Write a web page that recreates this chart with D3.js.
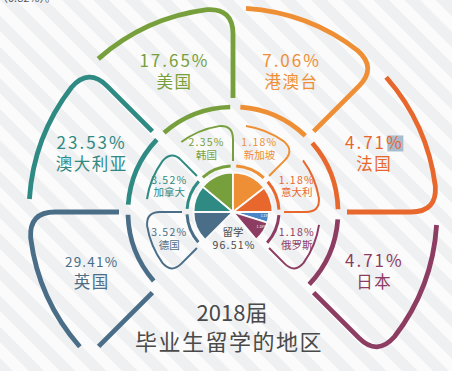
<!DOCTYPE html>
<html>
<head>
<meta charset="utf-8">
<script src="https://cdnjs.cloudflare.com/ajax/libs/d3/7.8.5/d3.min.js"></script>
<style>
  html, body { margin: 0; padding: 0; background: #fafafa; }
  svg { display: block; }
  text { font-family: "Noto Sans CJK SC", "Noto Sans", sans-serif; }
</style>
</head>
<body>
<svg id="chart"></svg>
<script>
// outer ring: regions and shares
var regions = ["英国", "澳大利亚", "美国", "港澳台", "法国", "日本"];
var regionPct = ["29.41%", "23.53%", "17.65%", "7.06%", "4.71%", "4.71%"];
// inner ring
var innerRegions = ["德国", "加拿大", "韩国", "新加坡", "意大利", "俄罗斯"];
var innerPct = ["3.52%", "3.52%", "2.35%", "1.18%", "1.18%", "1.18%"];
// centre pie, slice spans in degrees
var pieSpans = [45, 40, 50, 52, 38, 17, 33];
var pieNotes = ["", "", "", "", "", "1.18%", "1.18%"];
var centerLabel = ["留学", "96.51%"];
var titleLines = ["2018届", "毕业生留学的地区"];

var W = 452, H = 371;
var cx = 233, cy = 212;

var sectorColor = d3.scaleOrdinal()
    .domain(d3.range(6))
    .range(["#4b6e88", "#2f8a83", "#77a03d", "#ef8f35", "#e8672d", "#8d3c62"]);
var pieColor = d3.scaleOrdinal()
    .domain(d3.range(7))
    .range(["#4b6e88", "#2f8a83", "#77a03d", "#ef8f35", "#e8672d", "#4a86c6", "#8d3c62"]);

// sector index -> angle (degrees, clockwise from 12 o'clock)
var angle = d3.scaleLinear().domain([0, 6]).range([225, 495]);

var rad = function(a) { return a * Math.PI / 180; };
var polar = function(a, r) {
    return [cx + r * Math.sin(rad(a)), cy - r * Math.cos(rad(a))];
};

var svg = d3.select("#chart").attr("width", W).attr("height", H);

// striped background
var defs = svg.append("defs");
var pat = defs.append("pattern")
    .attr("id", "stripes")
    .attr("patternUnits", "userSpaceOnUse")
    .attr("width", 22).attr("height", 22)
    .attr("patternTransform", "rotate(-45)");
pat.append("rect").attr("width", 22).attr("height", 22).attr("fill", "#fbfbfb");
pat.append("rect").attr("width", 11).attr("height", 22).attr("fill", "#eff0f1");
svg.append("rect").attr("width", W).attr("height", H).attr("fill", "url(#stripes)");

// cut-off line of text at the very top
svg.append("text")
    .attr("x", -3).attr("y", 2)
    .attr("font-size", 11).attr("fill", "#555")
    .text("（0.82%）。");

// rounded petal outline: arc at rOut, rounded corner at the end, radial line in
var petalPath = function(a0, a1, rIn, rOut, c, mode) {
    var p = d3.path();
    var dc = c / rOut * 180 / Math.PI;
    var gap = 13 / rOut * 180 / Math.PI;
    var s, k, e, arcStart;
    if (mode === "closed") {
        s = polar(a0, rIn); p.moveTo(s[0], s[1]);
        s = polar(a0, rOut - c); p.lineTo(s[0], s[1]);
        k = polar(a0, rOut); e = polar(a0 + dc, rOut);
        p.quadraticCurveTo(k[0], k[1], e[0], e[1]);
        arcStart = a0 + dc;
    } else if (mode === "broken") {
        s = polar(a0, rIn); p.moveTo(s[0], s[1]);
        s = polar(a0, rOut - 14); p.lineTo(s[0], s[1]);
        arcStart = a0 + gap;
        s = polar(arcStart, rOut); p.moveTo(s[0], s[1]);
    } else {
        arcStart = a0 + gap;
        s = polar(arcStart, rOut); p.moveTo(s[0], s[1]);
    }
    p.arc(cx, cy, rOut, rad(arcStart - 90), rad(a1 - dc - 90), false);
    k = polar(a1, rOut); e = polar(a1, rOut - c);
    p.quadraticCurveTo(k[0], k[1], e[0], e[1]);
    e = polar(a1, rIn); p.lineTo(e[0], e[1]);
    return p.toString();
};

var g = svg.append("g");

// outer petals
g.selectAll("path.outer")
    .data(regions)
    .enter()
    .append("path")
    .attr("class", "outer")
    .attr("d", function(d, i) {
        return petalPath(angle(i), angle(i + 1), 114, 204, 26, i === 0 ? "broken" : "open");
    })
    .attr("fill", "none")
    .attr("stroke", function(d, i) { return sectorColor(i); })
    .attr("stroke-width", 4.8);

// middle thick arcs
var midArc = d3.arc()
    .innerRadius(102.7).outerRadius(107.4)
    .startAngle(function(d) { return rad(angle(d) + 4); })
    .endAngle(function(d) { return rad(angle(d + 1) - 1.5); });
g.selectAll("path.mid")
    .data(d3.range(6))
    .enter()
    .append("path")
    .attr("class", "mid")
    .attr("transform", "translate(" + cx + "," + cy + ")")
    .attr("d", midArc)
    .attr("fill", function(d) { return sectorColor(d); });

// inner petals
g.selectAll("path.inner")
    .data(innerRegions)
    .enter()
    .append("path")
    .attr("class", "inner")
    .attr("d", function(d, i) {
        return petalPath(angle(i), angle(i + 1), 51, 87, 14, i === 0 ? "closed" : "open");
    })
    .attr("fill", "none")
    .attr("stroke", function(d, i) { return sectorColor(i); })
    .attr("stroke-width", 2);

// ring hugging the pie
var ringArc = d3.arc()
    .innerRadius(44.5).outerRadius(47.5)
    .startAngle(function(d) { return rad(angle(d) + 4); })
    .endAngle(function(d) { return rad(angle(d + 1) - 3); });
g.selectAll("path.ring")
    .data(d3.range(6))
    .enter()
    .append("path")
    .attr("class", "ring")
    .attr("transform", "translate(" + cx + "," + cy + ")")
    .attr("d", ringArc)
    .attr("fill", function(d) { return sectorColor(d); });

// centre pie
var pie = d3.pie().sort(null)
    .startAngle(rad(-135)).endAngle(rad(140));
var pieArc = d3.arc().innerRadius(0)
    .outerRadius(function(d) { return d.index >= 5 ? 36 : 39.5; });
var slices = g.append("g")
    .attr("transform", "translate(" + cx + "," + cy + ")")
    .selectAll("g")
    .data(pie(pieSpans))
    .enter()
    .append("g");
slices.append("path")
    .attr("d", pieArc)
    .attr("fill", function(d) { return pieColor(d.index); })
    .attr("stroke", "#fafafa")
    .attr("stroke-width", 1.8);
slices.append("text")
    .attr("transform", function(d) {
        var c = d3.arc().innerRadius(18).outerRadius(36).centroid(d);
        return "translate(" + (c[0] + 6) + "," + (c[1] + 1) + ")";
    })
    .attr("text-anchor", "middle")
    .attr("font-size", 3.5)
    .attr("fill", "#fff")
    .text(function(d, i) { return pieNotes[i]; });

// two-line label as one text element
var twoLines = function(sel, first, second, dy1, dy2) {
    sel.append("tspan").attr("x", 0).attr("y", dy1).text(first);
    sel.append("tspan").attr("x", 0).attr("y", dy2).text(second);
};

// centre label
var center = g.append("text")
    .attr("transform", "translate(" + cx + ",0)")
    .attr("text-anchor", "middle").attr("font-size", 10.5).attr("fill", "#4a4a4a");
center.append("tspan").attr("x", 0).attr("y", 235.5).text(centerLabel[0]);
center.append("tspan").attr("x", 1).attr("y", 248.5).attr("letter-spacing", 1.2).text(centerLabel[1]);

// highlight box behind one "%" sign
var hl = polar(67.5, 153);
svg.append("rect")
    .attr("x", hl[0] + 13).attr("y", hl[1] - 18)
    .attr("width", 16).attr("height", 16)
    .attr("fill", "#a7bccf");

// outer labels
var outerLab = svg.selectAll("text.olab")
    .data(regions)
    .enter()
    .append("text")
    .attr("class", "olab")
    .attr("transform", function(d, i) {
        var p = polar((angle(i) + angle(i + 1)) / 2, 153);
        return "translate(" + p[0] + "," + p[1] + ")";
    })
    .attr("text-anchor", "middle")
    .attr("fill", function(d, i) { return sectorColor(i); });
outerLab.append("tspan")
    .attr("x", 0).attr("y", -4)
    .attr("font-size", function(d, i) { return i === 0 ? 13.5 : 17; })
    .attr("letter-spacing", function(d, i) { return i === 0 ? 1.2 : 2; })
    .text(function(d, i) { return regionPct[i]; });
outerLab.append("tspan")
    .attr("x", 0).attr("y", 17)
    .attr("font-size", 16.5)
    .attr("letter-spacing", 1.5)
    .text(function(d) { return d; });

// inner labels
var innerLab = svg.selectAll("text.ilab")
    .data(innerRegions)
    .enter()
    .append("text")
    .attr("class", "ilab")
    .attr("transform", function(d, i) {
        var p = polar((angle(i) + angle(i + 1)) / 2, 69);
        return "translate(" + p[0] + "," + p[1] + ")";
    })
    .attr("text-anchor", "middle")
    .attr("font-size", 10.5)
    .attr("fill", function(d, i) { return sectorColor(i); });
innerLab.append("tspan")
    .attr("x", 0).attr("y", -2)
    .attr("letter-spacing", 1.2)
    .text(function(d, i) { return innerPct[i]; });
innerLab.append("tspan")
    .attr("x", 0).attr("y", 10.5)
    .text(function(d) { return d; });

// title
var title = svg.append("text")
    .attr("transform", "translate(230,0)")
    .attr("text-anchor", "middle").attr("font-size", 22).attr("fill", "#4a4a4a");
title.append("tspan").attr("x", 2).attr("y", 321).text(titleLines[0]);
title.append("tspan").attr("x", -1).attr("y", 350).attr("letter-spacing", 1.5).text(titleLines[1]);
</script>
</body>
</html>
